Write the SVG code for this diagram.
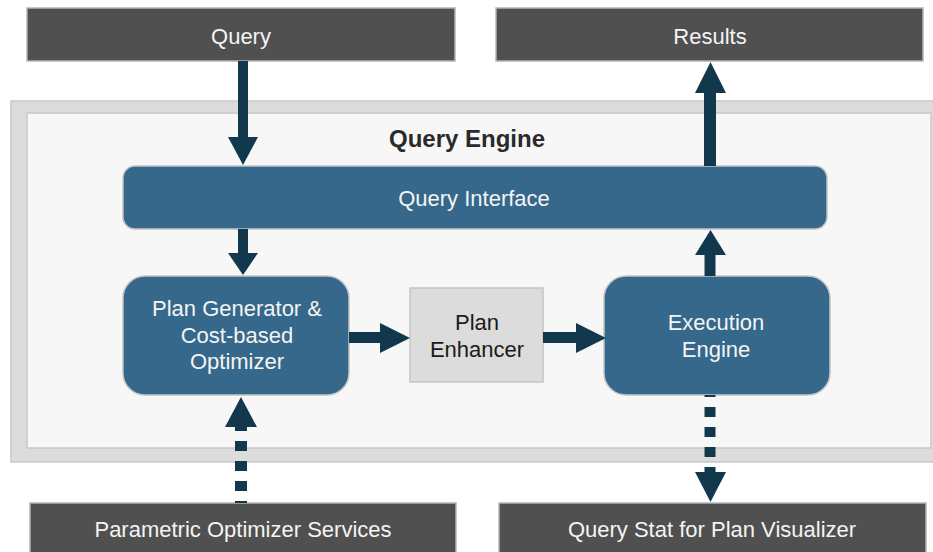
<svg xmlns="http://www.w3.org/2000/svg" width="933" height="552" viewBox="0 0 933 552">
  <style>
    .io { fill: #505050; stroke: #b4b4b4; stroke-width: 1.5; }
    .blk { fill: #35688a; stroke: #c4c4c4; stroke-width: 1.5; }
    .gry { fill: #dcdcdc; stroke: #c4c4c4; stroke-width: 1.5; }
    .lbl { font-family: "Liberation Sans", Arial, sans-serif; font-size: 22px; text-anchor: middle; fill: #f4f4f4; }
    .dark { fill: #1a1a1a; }
    .title { font-family: "Liberation Sans", Arial, sans-serif; font-size: 24px; font-weight: bold; text-anchor: middle; fill: #2a2a2a; }
    .shaft { stroke: #12384e; fill: none; }
    .head { fill: #12384e; }
  </style>

  <rect width="933" height="552" fill="#ffffff"/>

  <!-- engine container -->
  <g id="query-engine">
    <rect x="11" y="101" width="940" height="361" fill="#dcdcdc" stroke="#c8c8c8" stroke-width="1.5"/>
    <rect x="27" y="113" width="904" height="335" fill="#f7f7f7" stroke="#c8c8c8" stroke-width="1.5"/>
    <text class="title" x="467" y="147">Query Engine</text>
  </g>

  <g id="query">
    <rect class="io" x="27" y="8" width="428" height="53"/>
    <text class="lbl" x="241" y="44">Query</text>
  </g>

  <g id="results">
    <rect class="io" x="496" y="8" width="427" height="53"/>
    <text class="lbl" x="710" y="44">Results</text>
  </g>

  <g id="query-interface">
    <rect class="blk" x="123" y="166" width="704" height="63" rx="12" ry="12"/>
    <text class="lbl" x="474" y="206">Query Interface</text>
  </g>

  <g id="plan-generator">
    <rect class="blk" x="123" y="276" width="226" height="119" rx="22" ry="22"/>
    <text class="lbl" x="237" y="316">Plan Generator &amp;</text>
    <text class="lbl" x="237" y="343">Cost-based</text>
    <text class="lbl" x="237" y="369">Optimizer</text>
  </g>

  <g id="plan-enhancer">
    <rect class="gry" x="410" y="288" width="133" height="94"/>
    <text class="lbl dark" x="477" y="330">Plan</text>
    <text class="lbl dark" x="477" y="357">Enhancer</text>
  </g>

  <g id="execution-engine">
    <rect class="blk" x="604" y="276" width="226" height="119" rx="22" ry="22"/>
    <text class="lbl" x="716" y="330">Execution</text>
    <text class="lbl" x="716" y="357">Engine</text>
  </g>

  <g id="parametric-optimizer-services">
    <rect class="io" x="30" y="503" width="426" height="60"/>
    <text class="lbl" x="243" y="537">Parametric Optimizer Services</text>
  </g>

  <g id="query-stat">
    <rect class="io" x="499" y="503" width="427" height="60"/>
    <text class="lbl" x="712" y="537">Query Stat for Plan Visualizer</text>
  </g>

  <!-- connectors -->
  <g id="connectors">
    <!-- Query -> Query Interface -->
    <line class="shaft" x1="243" y1="61" x2="243" y2="138" stroke-width="10"/>
    <polygon class="head" points="228,137 258,137 243,165"/>

    <!-- Query Interface -> Results -->
    <line class="shaft" x1="710" y1="166" x2="710" y2="92" stroke-width="12"/>
    <polygon class="head" points="695,93 726,93 710.5,62"/>

    <!-- Query Interface -> Plan Generator -->
    <line class="shaft" x1="243" y1="229" x2="243" y2="254" stroke-width="10"/>
    <polygon class="head" points="228,253 258,253 243,275"/>

    <!-- Execution Engine -> Query Interface -->
    <line class="shaft" x1="710" y1="276" x2="710" y2="254" stroke-width="11"/>
    <polygon class="head" points="695,255 726,255 710.5,230"/>

    <!-- Plan Generator -> Plan Enhancer -->
    <line class="shaft" x1="349" y1="337.5" x2="381" y2="337.5" stroke-width="11"/>
    <polygon class="head" points="380,323 380,353 410,338"/>

    <!-- Plan Enhancer -> Execution Engine -->
    <line class="shaft" x1="543" y1="337.5" x2="577" y2="337.5" stroke-width="11"/>
    <polygon class="head" points="576,323 576,353 606,338"/>

    <!-- Parametric Optimizer Services -> Plan Generator (dashed) -->
    <line class="shaft" x1="241" y1="421" x2="241" y2="503" stroke-width="12" stroke-dasharray="10 10"/>
    <polygon class="head" points="225,427 257,427 241,397"/>

    <!-- Execution Engine -> Query Stat (dashed) -->
    <line class="shaft" x1="710" y1="395" x2="710" y2="473" stroke-width="11" stroke-dasharray="10 10" stroke-dashoffset="8"/>
    <polygon class="head" points="695,472 726,472 710.5,502"/>
  </g>
</svg>
